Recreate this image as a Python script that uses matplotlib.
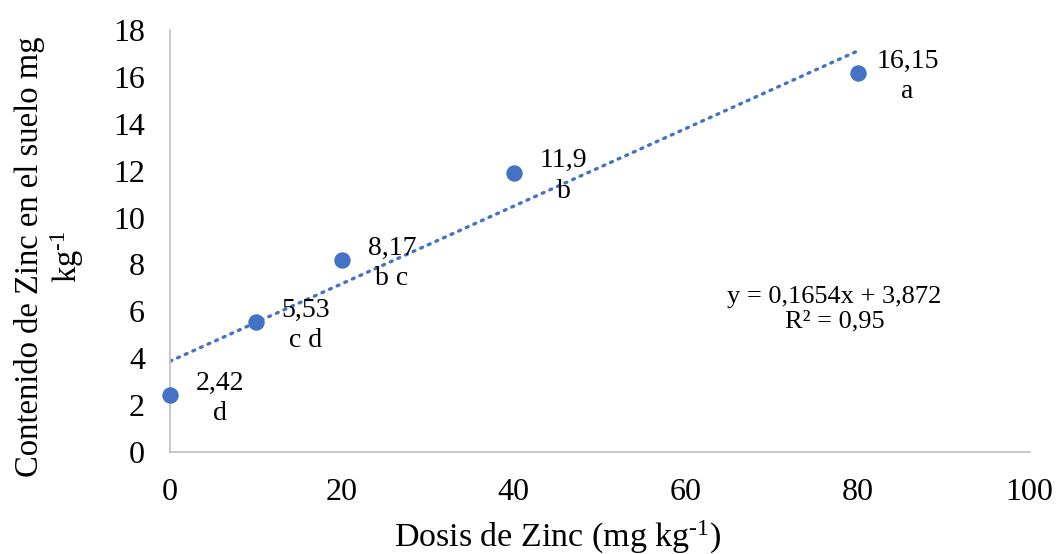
import matplotlib
matplotlib.use("Agg")
import matplotlib.pyplot as plt
import numpy as np

plt.rcParams['font.family'] = ['Liberation Serif', 'DejaVu Serif']
plt.rcParams['mathtext.fontset'] = 'custom'
plt.rcParams['mathtext.rm'] = 'Liberation Serif'
plt.rcParams['mathtext.it'] = 'Liberation Serif:italic'

dose = [0, 10, 20, 40, 80]
zinc = [2.42, 5.53, 8.17, 11.9, 16.15]
value_labels = ["2,42", "5,53", "8,17", "11,9", "16,15"]
letters = ["d", "c d", "b c", "b", "a"]
slope, intercept = 0.1654, 3.872
xticks = [0, 20, 40, 60, 80, 100]
yticks = [0, 2, 4, 6, 8, 10, 12, 14, 16, 18]

color = "#4472C4"
fig = plt.figure(figsize=(10.56, 5.54), dpi=100)
ax = fig.add_axes([0.161, 0.184, 0.814, 0.762])

xt = np.array([0, 80])
ax.plot(xt, slope * xt + intercept, linestyle=(0, (0.6, 1.9)), color=color,
        linewidth=2.4, dash_capstyle='round')
ax.scatter(dose, zinc, s=140, color=color, zorder=3, clip_on=False, linewidths=0)

for x, y, v, l in zip(dose, zinc, value_labels, letters):
    ax.annotate(v + "\n" + l, (x, y), xytext=(50, -3), textcoords="offset pixels",
                ha="center", va="center", fontsize=20, linespacing=1.3)

ax.text(77.3, 6.1, "y = 0,1654x + 3,872\nR² = 0,95", ha="center", va="center",
        fontsize=19, linespacing=1.15)

ax.set_xlim(0, 100)
ax.set_ylim(0, 18)
ax.set_xticks(xticks)
ax.set_yticks(yticks)
ax.tick_params(length=0, labelsize=23)
ax.tick_params(axis='x', pad=19)
ax.tick_params(axis='y', pad=18)
for s in ["top", "right"]:
    ax.spines[s].set_visible(False)
for s in ["left", "bottom"]:
    ax.spines[s].set_color("#BFBFBF")
    ax.spines[s].set_linewidth(1.2)

sup = "$^{\\mathregular{\u2010}1}$"
fig.text(558 / 1056, 1 - 537 / 554, "Dosis de Zinc (mg kg" + sup + ")", fontsize=24.5,
         ha="center", va="center")
fig.text(50 / 1056, 1 - 257 / 554, "Contenido de Zinc en el suelo mg\nkg" + sup,
         fontsize=23.5, ha="center", va="center", rotation=90, linespacing=1.15,
         multialignment="center")

fig.savefig("out.png", dpi=100)
